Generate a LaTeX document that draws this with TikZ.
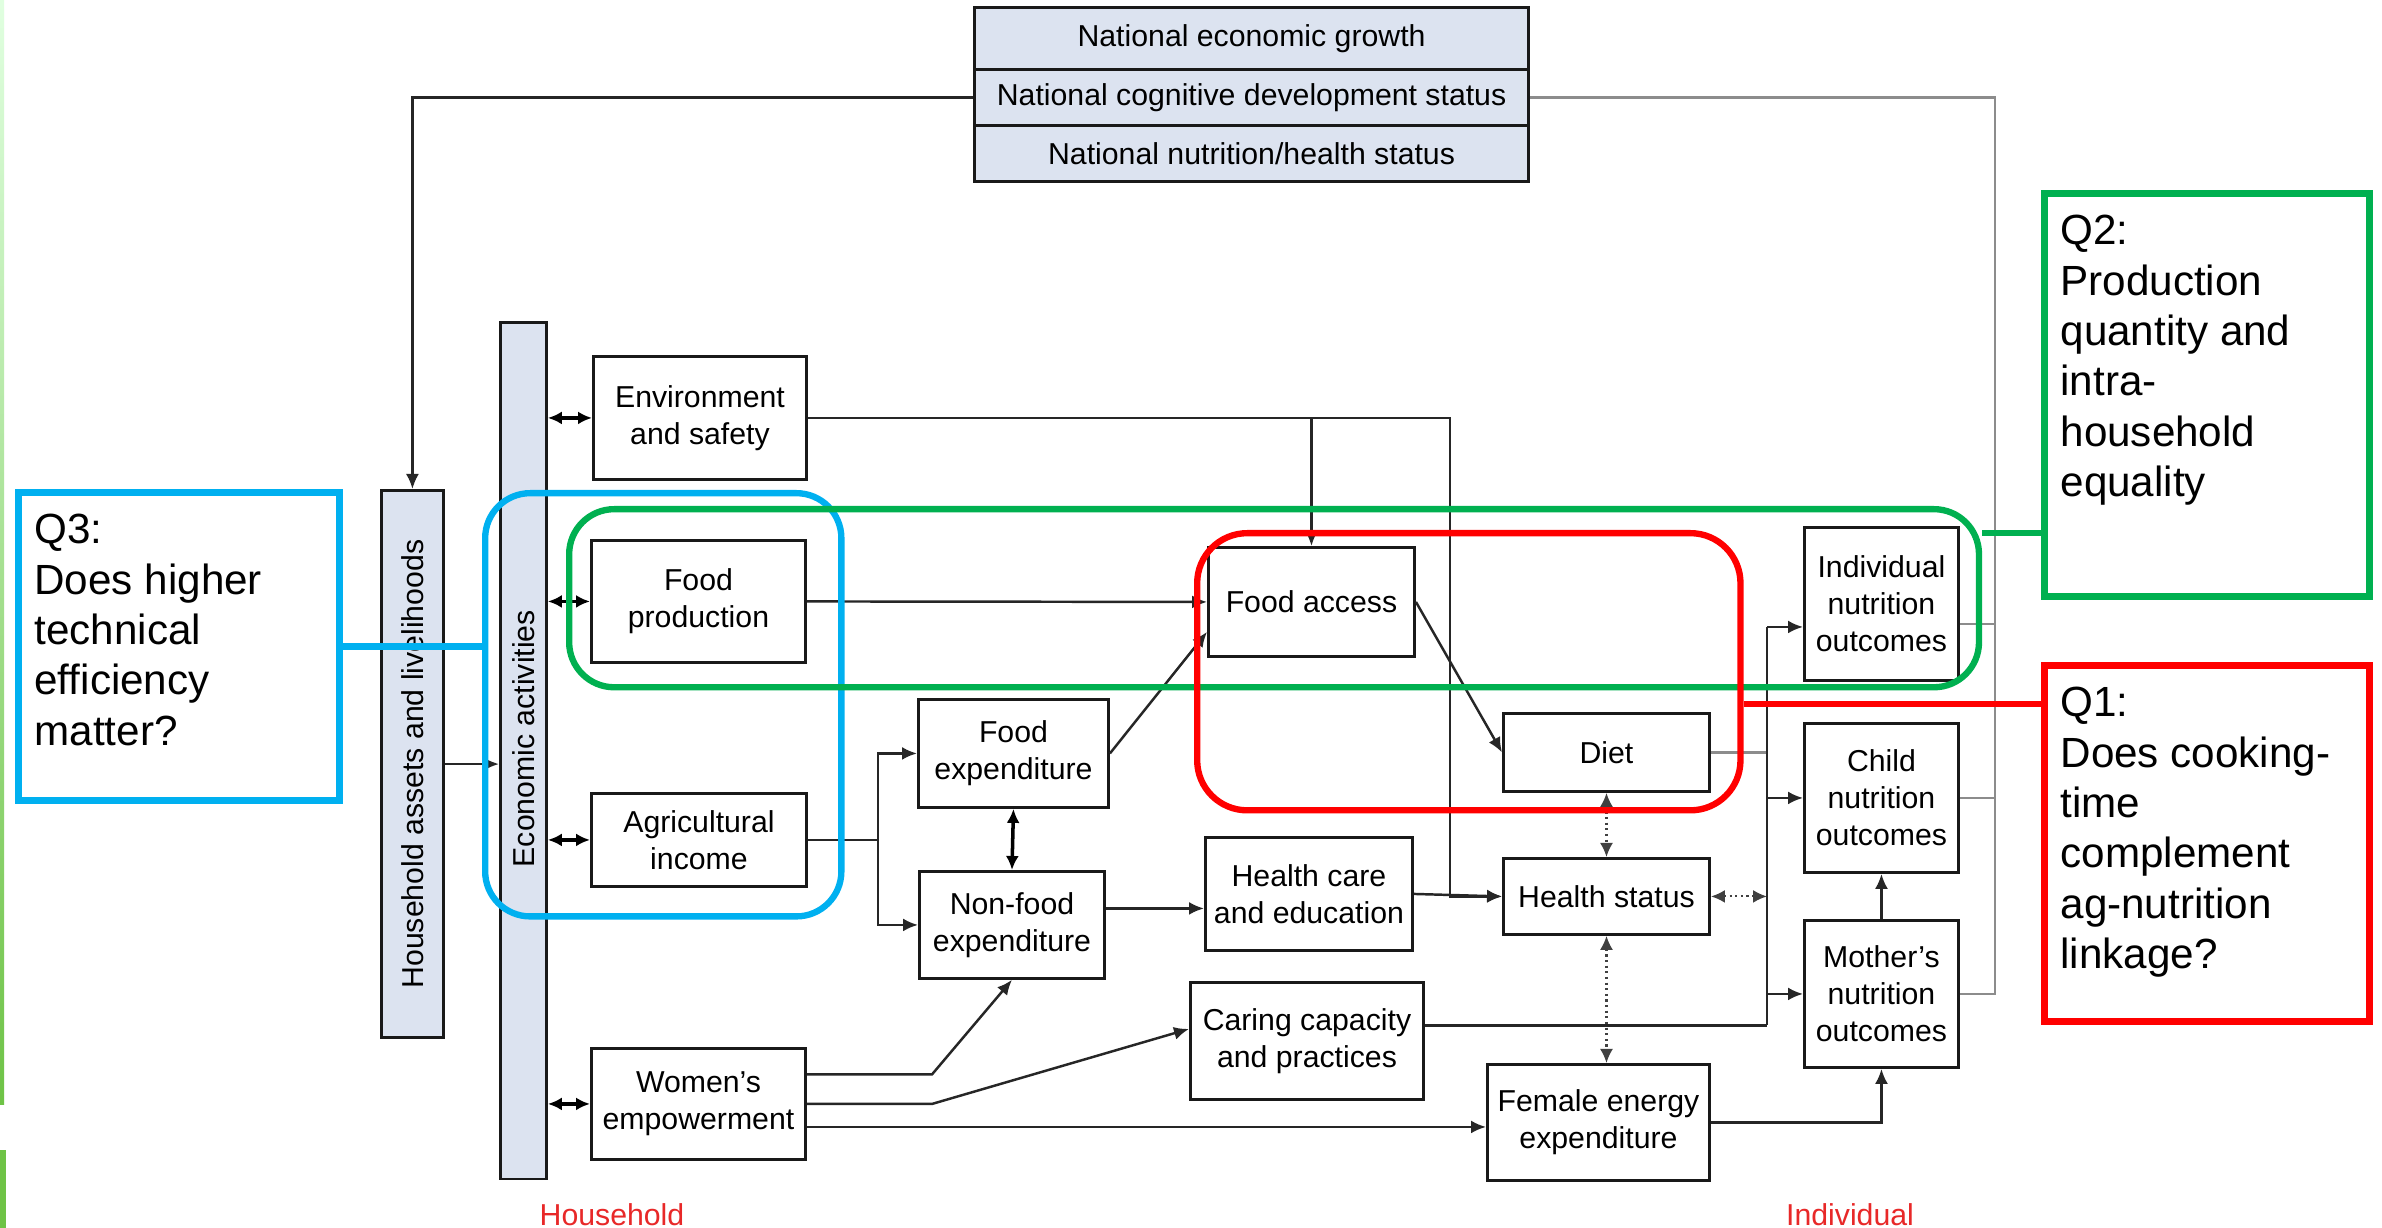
\documentclass[tikz,border=0pt]{standalone}
\usepackage{fontspec}
\setmainfont{Liberation Sans}
\usetikzlibrary{arrows.meta,calc}
\definecolor{barfill}{RGB}{220,227,240}
\definecolor{qblue}{RGB}{0,176,240}
\definecolor{qgreen}{RGB}{0,176,80}
\definecolor{qred}{RGB}{255,0,0}
\definecolor{lblred}{RGB}{232,40,40}
\definecolor{stripgreen}{RGB}{110,195,70}
\newcommand\bxfont{\fontsize{8.6}{10.5}\selectfont}
\newcommand\qfont{\fontsize{12}{14.3}\selectfont}
\begin{document}
\begin{tikzpicture}[x=0.01cm,y=-0.01cm,
  box/.style={draw=black!90, line width=0.8pt, fill=white, inner sep=0pt, align=center, font=\bxfont, anchor=north west},
  natbox/.style={box, fill=barfill, minimum width=5.54cm},
  bar/.style={draw=black!90, line width=0.8pt, fill=barfill, inner sep=0pt, anchor=north west},
  ln/.style={draw=black!85, line width=0.7pt},
  lng/.style={draw=black!45, line width=0.8pt},
  arr/.style={ln, -{Latex[length=1.5mm,width=1.3mm]}},
  darr/.style={draw=black, line width=1pt, {Latex[length=1.4mm,width=1.3mm]}-{Latex[length=1.4mm,width=1.3mm]}},
  dotarr/.style={draw=black!75, line width=0.6pt, densely dotted, {Latex[length=1.4mm,width=1.3mm]}-{Latex[length=1.4mm,width=1.3mm]}},
  qbox/.style={line width=2pt, fill=white, anchor=north west, inner xsep=0.16cm, inner ysep=0.22cm, font=\qfont},
  ring/.style={line width=1.8pt, rounded corners=0.45cm, inner sep=0pt, anchor=north west},
  lbl/.style={text=lblred, font=\bxfont}
]
\useasboundingbox (0,0) rectangle (2382,1228);
\fill[white] (0,0) rectangle (2382,1228);
% left edge strip
\shade[top color=green!12!white, bottom color=stripgreen] (0,0) rectangle (4,1104);
\fill[stripgreen] (0,1150) rectangle (6,1228);

% national boxes
\node[natbox, minimum height=0.62cm] (nat1) at (973,6) {National economic growth};
\node[natbox, minimum height=0.565cm] (nat2) at (973,68) {National cognitive development status};
\node[natbox, minimum height=0.555cm] (nat3) at (973,124.5) {National nutrition/health status};

% bars
\node[bar, minimum width=0.62cm, minimum height=5.47cm,
  label={[rotate=90, font=\bxfont]center:Household assets and livelihoods}] (hh) at (380,489) {};
\node[bar, minimum width=0.46cm, minimum height=8.56cm,
  label={[rotate=90, font=\bxfont, xshift=0.12cm]center:Economic activities}] (econ) at (499,321) {};

% boxes
\node[box, minimum width=2.13cm, minimum height=1.23cm] (env) at (592,355) {Environment\\and safety};
\node[box, minimum width=2.14cm, minimum height=1.22cm] (fprod) at (590,539) {Food\\production};
\node[box, minimum width=2.15cm, minimum height=0.93cm] (agri) at (590,792) {Agricultural\\income};
\node[box, minimum width=2.14cm, minimum height=1.11cm] (women) at (590,1047) {Women’s\\empowerment};
\node[box, minimum width=1.90cm, minimum height=1.08cm] (fexp) at (917,698) {Food\\expenditure};
\node[box, minimum width=1.85cm, minimum height=1.07cm] (nfexp) at (918,870) {Non-food\\expenditure};
\node[box, minimum width=2.06cm, minimum height=1.09cm] (faccess) at (1207,546) {Food access};
\node[box, minimum width=2.07cm, minimum height=1.13cm] (hce) at (1204,836) {Health care\\and education};
\node[box, minimum width=2.33cm, minimum height=1.17cm] (caring) at (1189,981) {Caring capacity\\and practices};
\node[box, minimum width=2.06cm, minimum height=0.78cm] (diet) at (1502,712) {Diet};
\node[box, minimum width=2.06cm, minimum height=0.76cm] (health) at (1502,857) {Health status};
\node[box, minimum width=2.22cm, minimum height=1.16cm] (female) at (1486,1063) {Female energy\\expenditure};
\node[box, minimum width=1.54cm, minimum height=1.53cm] (indiv) at (1803,526) {Individual\\nutrition\\outcomes};
\node[box, minimum width=1.54cm, minimum height=1.49cm] (child) at (1803,722) {Child\\nutrition\\outcomes};
\node[box, minimum width=1.54cm, minimum height=1.47cm] (mother) at (1803,919) {Mother’s\\nutrition\\outcomes};

% helper coordinates
\coordinate (rcol) at (1995,0);
\coordinate (br1) at (878,0);
\coordinate (envc) at (1450,0);
\coordinate (vc) at (1767,0);
\coordinate (wk) at (932,0);
\coordinate (ino) at ([yshift=-0.23cm]indiv.west);
\coordinate (ine) at ([yshift=-0.2cm]indiv.east);
\coordinate (cgo) at ([yshift=0.155cm]caring.east);
\coordinate (nfo) at ([yshift=0.165cm]nfexp.east);
\coordinate (w1) at ([yshift=0.295cm]women.east);
\coordinate (w3) at ([yshift=-0.23cm]women.east);

% connectors
\draw[arr] (nat2.west) -| (hh.north);
\draw[lng] (nat2.east) -| (rcol |- mother.east) -- (mother.east);
\draw[lng] (ine) -- (ine -| rcol);
\draw[lng] (child.east) -- (child.east -| rcol);

\draw[arr] (hh.east) -- (econ.west |- hh.east);
\draw[darr] (econ.east |- env.west) -- (env.west);
\draw[darr] (econ.east |- fprod.west) -- (fprod.west);
\draw[darr] (econ.east |- agri.west) -- (agri.west);
\draw[darr] (econ.east |- women.west) -- (women.west);

\draw[arr] (agri.east) -| (br1 |- fexp.west) -- (fexp.west);
\draw[arr] (br1 |- agri.east) |- (nfexp.west);
\draw[darr] (fexp.south) -- (nfexp.north);
\draw[arr] (fexp.east) -- ([yshift=-0.3cm]faccess.west);
\draw[arr] (fprod.east) -- (faccess.west);

\draw[arr] (env.east) -| (envc |- health.west) -- (health.west);
\draw[arr] (faccess.north |- env.east) -- (faccess.north);
\draw[arr] (hce.east) -- (health.west);
\draw[arr] (nfo) -- (nfo -| hce.west);

\draw[arr] (faccess.east) -- (diet.west);
\draw[dotarr] (diet.south) -- (health.north);
\draw[dotarr] (health.south) -- (health.south |- female.north);

\draw[lng] (diet.east) -- (vc |- diet.east);
\draw[dotarr] (health.east) -- (vc |- health.east);
\draw[ln] (cgo) -- (cgo -| vc);
\draw[ln] (ino -| vc) -- (cgo -| vc);
\draw[arr] (ino -| vc) -- (ino);
\draw[arr] (vc |- child.west) -- (child.west);
\draw[arr] (vc |- mother.west) -- (mother.west);

\draw[arr] (mother.north) -- (child.south);
\draw[arr] (female.east) -| (mother.south);

\draw[arr] (w1) -- (w1 -| wk) -- (nfexp.south);
\draw[arr] (women.east) -- (women.east -| wk) -- ([yshift=0.12cm]caring.west);
\draw[arr] (w3) -- (w3 -| female.west);

% labels
\node[lbl] (hlbl) at (612,1215) {Household};
\node[lbl] (ilbl) at (1850,1215) {Individual};

% question rings
\node[ring, draw=qblue, minimum width=3.56cm, minimum height=4.23cm] (bluer) at (482,490) {};
\node[ring, draw=qgreen, minimum width=14.09cm, minimum height=1.78cm] (greenr) at (566,506) {};
\node[ring, draw=qred, rounded corners=0.5cm, minimum width=5.43cm, minimum height=2.77cm] (redr) at (1194,530) {};

% question boxes
\node[qbox, draw=qblue] (q3) at (15,489) {\begin{minipage}[t][2.64cm][t]{2.89cm}\raggedright Q3:\\Does higher\\technical\\efficiency\\matter?\end{minipage}};
\node[qbox, draw=qgreen] (q2) at (2041,190) {\begin{minipage}[t][3.59cm][t]{2.93cm}\raggedright Q2:\\Production\\quantity and\\intra-\\household\\equality\end{minipage}};
\node[qbox, draw=qred] (q1) at (2041,662) {\begin{minipage}[t][3.12cm][t]{2.93cm}\raggedright Q1:\\Does cooking-\\time\\complement\\ag-nutrition\\linkage?\end{minipage}};

\coordinate (gconn) at ([yshift=0.65cm]greenr.east);
\coordinate (rconn) at ([yshift=-0.325cm]redr.east);
\draw[qblue, line width=1.8pt] (q3.east) -- (q3.east -| bluer.west);
\draw[qgreen, line width=1.8pt] (gconn) -- (gconn -| q2.west);
\draw[qred, line width=1.8pt] (rconn) -- (rconn -| q1.west);
\end{tikzpicture}
\end{document}
